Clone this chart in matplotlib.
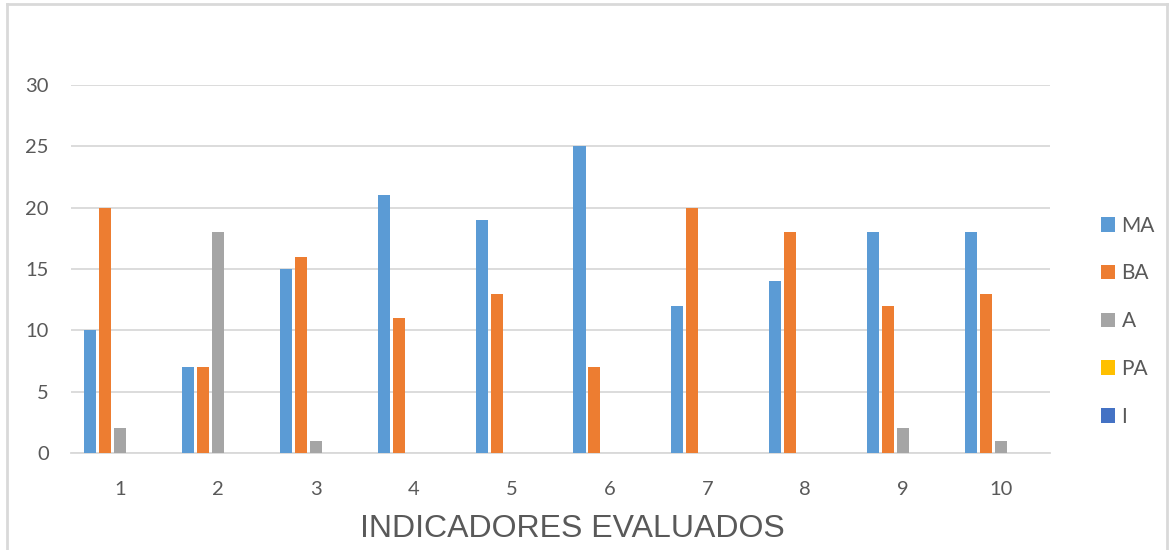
import numpy as np
import matplotlib.pyplot as plt
from matplotlib.lines import Line2D

# Data
categories = ['1', '2', '3', '4', '5', '6', '7', '8', '9', '10']
series_names = ['MA', 'BA', 'A', 'PA', 'I']
ma = [10, 7, 15, 21, 19, 25, 12, 14, 18, 18]
ba = [20, 7, 16, 11, 13, 7, 20, 18, 12, 13]
a = [2, 18, 1, 0, 0, 0, 0, 0, 2, 1]
pa = [0, 0, 0, 0, 0, 0, 0, 0, 0, 0]
i_vals = [0, 0, 0, 0, 0, 0, 0, 0, 0, 0]
yticks = [0, 5, 10, 15, 20, 25, 30]

colors = ['#5B9BD5', '#ED7D31', '#A5A5A5', '#FFC000', '#4472C4']
text_color = '#595959'
grid_color = '#D9D9D9'

plt.rcParams['font.family'] = ['Lato', 'DejaVu Sans']

fig = plt.figure(figsize=(11.69, 5.5), dpi=100)
ax = fig.add_axes([71 / 1169, 1 - 453 / 550, (1050 - 71) / 1169, (453 - 85) / 550])

x = np.arange(len(categories))
slot = 0.153
width = 0.123
all_series = [ma, ba, a, pa, i_vals]
for k, (name, vals) in enumerate(zip(series_names, all_series)):
    offset = (k - 2) * slot
    ax.bar(x + offset, vals, width=width, color=colors[k], label=name, zorder=3)

ax.set_xlim(-0.5, len(categories) - 0.5)
ax.set_ylim(0, 30)
ax.set_yticks(yticks)
ax.set_xticks(x)
ax.set_xticklabels(categories)
ax.yaxis.grid(True, color=grid_color, linewidth=1.3, zorder=0)
ax.set_axisbelow(True)
for side in ['top', 'right', 'left']:
    ax.spines[side].set_visible(False)
ax.spines['bottom'].set_color(grid_color)
ax.spines['bottom'].set_linewidth(1.3)
ax.tick_params(axis='both', length=0, labelsize=14.5, colors=text_color)
ax.tick_params(axis='y', pad=16)
ax.tick_params(axis='x', pad=20)
ax.set_xlabel('INDICADORES EVALUADOS', fontsize=23, color=text_color,
              family=['Liberation Sans', 'DejaVu Sans'])
ax.xaxis.set_label_coords(0.512, -0.165)

leg = fig.legend(loc='upper left', bbox_to_anchor=(1082 / 1169, 1 - 197 / 550),
                 frameon=False, fontsize=15, labelspacing=1.33,
                 handlelength=0.7, handleheight=0.7, handletextpad=0.3)
for t in leg.get_texts():
    t.set_color(text_color)

# outer chart frame
frame_kw = dict(color='#D9D9D9', linewidth=2, transform=fig.transFigure)
fig.add_artist(Line2D([7 / 1169, 7 / 1169], [0, 1 - 4 / 550], **frame_kw))
fig.add_artist(Line2D([7 / 1169, 1167 / 1169], [1 - 4 / 550, 1 - 4 / 550], **frame_kw))
fig.add_artist(Line2D([1167 / 1169, 1167 / 1169], [0, 1 - 4 / 550], **frame_kw))

fig.savefig('out.png', dpi=100)
